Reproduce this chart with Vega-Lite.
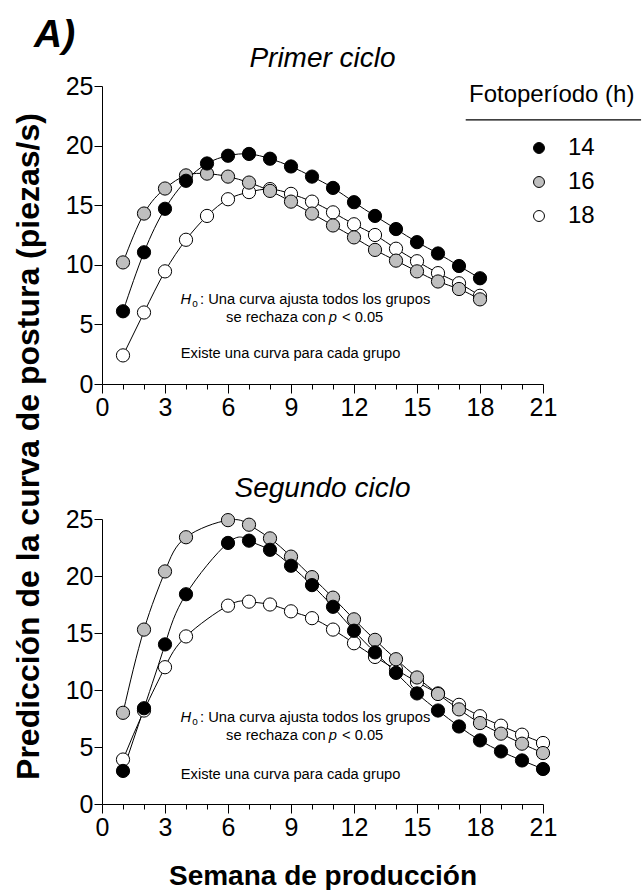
{
  "$schema": "https://vega.github.io/schema/vega-lite/v6.json",
  "autosize": {"type": "pad"},
  "padding": {"left": 11, "top": 16, "right": 0, "bottom": 0},
  "background": "white",
  "bounds": "flush",
  "spacing": 135,
  "title": {"text": "A)", "anchor": "start", "frame": "group", "dx": -68, "offset": -10, "fontSize": 39, "fontStyle": "italic", "fontWeight": "bold", "font": "Liberation Sans", "color": "black"},
  "config": {
    "view": {"stroke": null},
    "axis": {"grid": false, "domainColor": "black", "tickColor": "black", "labelColor": "black", "labelFont": "Liberation Sans", "labelFontSize": 25, "domainWidth": 1, "tickWidth": 1, "titleColor": "black", "titleFont": "Liberation Sans", "titleFontWeight": "bold", "labelOverlap": false, "labelFlush": false},
    "text": {"font": "Liberation Sans", "fontSize": 14.7, "color": "black", "baseline": "alphabetic"}
  },
  "datasets": {
    "d": [
      {"ciclo": "Primer", "foto": 18, "semana": 1, "valor": 2.4},
      {"ciclo": "Primer", "foto": 18, "semana": 2, "valor": 6.0},
      {"ciclo": "Primer", "foto": 18, "semana": 3, "valor": 9.45},
      {"ciclo": "Primer", "foto": 18, "semana": 4, "valor": 12.1},
      {"ciclo": "Primer", "foto": 18, "semana": 5, "valor": 14.1},
      {"ciclo": "Primer", "foto": 18, "semana": 6, "valor": 15.5},
      {"ciclo": "Primer", "foto": 18, "semana": 7, "valor": 16.1},
      {"ciclo": "Primer", "foto": 18, "semana": 8, "valor": 16.35},
      {"ciclo": "Primer", "foto": 18, "semana": 9, "valor": 15.95},
      {"ciclo": "Primer", "foto": 18, "semana": 10, "valor": 15.3},
      {"ciclo": "Primer", "foto": 18, "semana": 11, "valor": 14.4},
      {"ciclo": "Primer", "foto": 18, "semana": 12, "valor": 13.4},
      {"ciclo": "Primer", "foto": 18, "semana": 13, "valor": 12.5},
      {"ciclo": "Primer", "foto": 18, "semana": 14, "valor": 11.35},
      {"ciclo": "Primer", "foto": 18, "semana": 15, "valor": 10.3},
      {"ciclo": "Primer", "foto": 18, "semana": 16, "valor": 9.3},
      {"ciclo": "Primer", "foto": 18, "semana": 17, "valor": 8.45},
      {"ciclo": "Primer", "foto": 18, "semana": 18, "valor": 7.4},
      {"ciclo": "Primer", "foto": 16, "semana": 1, "valor": 10.2},
      {"ciclo": "Primer", "foto": 16, "semana": 2, "valor": 14.3},
      {"ciclo": "Primer", "foto": 16, "semana": 3, "valor": 16.4},
      {"ciclo": "Primer", "foto": 16, "semana": 4, "valor": 17.5},
      {"ciclo": "Primer", "foto": 16, "semana": 5, "valor": 17.65},
      {"ciclo": "Primer", "foto": 16, "semana": 6, "valor": 17.4},
      {"ciclo": "Primer", "foto": 16, "semana": 7, "valor": 16.9},
      {"ciclo": "Primer", "foto": 16, "semana": 8, "valor": 16.2},
      {"ciclo": "Primer", "foto": 16, "semana": 9, "valor": 15.3},
      {"ciclo": "Primer", "foto": 16, "semana": 10, "valor": 14.3},
      {"ciclo": "Primer", "foto": 16, "semana": 11, "valor": 13.3},
      {"ciclo": "Primer", "foto": 16, "semana": 12, "valor": 12.3},
      {"ciclo": "Primer", "foto": 16, "semana": 13, "valor": 11.25},
      {"ciclo": "Primer", "foto": 16, "semana": 14, "valor": 10.35},
      {"ciclo": "Primer", "foto": 16, "semana": 15, "valor": 9.45},
      {"ciclo": "Primer", "foto": 16, "semana": 16, "valor": 8.6},
      {"ciclo": "Primer", "foto": 16, "semana": 17, "valor": 7.97},
      {"ciclo": "Primer", "foto": 16, "semana": 18, "valor": 7.1},
      {"ciclo": "Primer", "foto": 14, "semana": 1, "valor": 6.1},
      {"ciclo": "Primer", "foto": 14, "semana": 2, "valor": 11.05},
      {"ciclo": "Primer", "foto": 14, "semana": 3, "valor": 14.7},
      {"ciclo": "Primer", "foto": 14, "semana": 4, "valor": 17.05},
      {"ciclo": "Primer", "foto": 14, "semana": 5, "valor": 18.5},
      {"ciclo": "Primer", "foto": 14, "semana": 6, "valor": 19.15},
      {"ciclo": "Primer", "foto": 14, "semana": 7, "valor": 19.3},
      {"ciclo": "Primer", "foto": 14, "semana": 8, "valor": 18.9},
      {"ciclo": "Primer", "foto": 14, "semana": 9, "valor": 18.25},
      {"ciclo": "Primer", "foto": 14, "semana": 10, "valor": 17.4},
      {"ciclo": "Primer", "foto": 14, "semana": 11, "valor": 16.45},
      {"ciclo": "Primer", "foto": 14, "semana": 12, "valor": 15.25},
      {"ciclo": "Primer", "foto": 14, "semana": 13, "valor": 14.1},
      {"ciclo": "Primer", "foto": 14, "semana": 14, "valor": 13.0},
      {"ciclo": "Primer", "foto": 14, "semana": 15, "valor": 11.9},
      {"ciclo": "Primer", "foto": 14, "semana": 16, "valor": 10.95},
      {"ciclo": "Primer", "foto": 14, "semana": 17, "valor": 9.9},
      {"ciclo": "Primer", "foto": 14, "semana": 18, "valor": 8.87},
      {"ciclo": "Segundo", "foto": 18, "semana": 1, "valor": 3.9},
      {"ciclo": "Segundo", "foto": 18, "semana": 2, "valor": 8.2},
      {"ciclo": "Segundo", "foto": 18, "semana": 3, "valor": 12.0},
      {"ciclo": "Segundo", "foto": 18, "semana": 4, "valor": 14.7},
      {"ciclo": "Segundo", "foto": 18, "semana": 6, "valor": 17.4},
      {"ciclo": "Segundo", "foto": 18, "semana": 7, "valor": 17.75},
      {"ciclo": "Segundo", "foto": 18, "semana": 8, "valor": 17.5},
      {"ciclo": "Segundo", "foto": 18, "semana": 9, "valor": 16.9},
      {"ciclo": "Segundo", "foto": 18, "semana": 10, "valor": 16.3},
      {"ciclo": "Segundo", "foto": 18, "semana": 11, "valor": 15.3},
      {"ciclo": "Segundo", "foto": 18, "semana": 12, "valor": 14.1},
      {"ciclo": "Segundo", "foto": 18, "semana": 13, "valor": 12.9},
      {"ciclo": "Segundo", "foto": 18, "semana": 14, "valor": 11.8},
      {"ciclo": "Segundo", "foto": 18, "semana": 15, "valor": 10.7},
      {"ciclo": "Segundo", "foto": 18, "semana": 16, "valor": 9.7},
      {"ciclo": "Segundo", "foto": 18, "semana": 17, "valor": 8.7},
      {"ciclo": "Segundo", "foto": 18, "semana": 18, "valor": 7.7},
      {"ciclo": "Segundo", "foto": 18, "semana": 19, "valor": 6.87},
      {"ciclo": "Segundo", "foto": 18, "semana": 20, "valor": 6.08},
      {"ciclo": "Segundo", "foto": 18, "semana": 21, "valor": 5.35},
      {"ciclo": "Segundo", "foto": 16, "semana": 1, "valor": 8.0},
      {"ciclo": "Segundo", "foto": 16, "semana": 2, "valor": 15.3},
      {"ciclo": "Segundo", "foto": 16, "semana": 3, "valor": 20.4},
      {"ciclo": "Segundo", "foto": 16, "semana": 4, "valor": 23.4},
      {"ciclo": "Segundo", "foto": 16, "semana": 6, "valor": 24.9},
      {"ciclo": "Segundo", "foto": 16, "semana": 7, "valor": 24.5},
      {"ciclo": "Segundo", "foto": 16, "semana": 8, "valor": 23.3},
      {"ciclo": "Segundo", "foto": 16, "semana": 9, "valor": 21.7},
      {"ciclo": "Segundo", "foto": 16, "semana": 10, "valor": 19.9},
      {"ciclo": "Segundo", "foto": 16, "semana": 11, "valor": 18.1},
      {"ciclo": "Segundo", "foto": 16, "semana": 12, "valor": 16.2},
      {"ciclo": "Segundo", "foto": 16, "semana": 13, "valor": 14.4},
      {"ciclo": "Segundo", "foto": 16, "semana": 14, "valor": 12.7},
      {"ciclo": "Segundo", "foto": 16, "semana": 15, "valor": 11.1},
      {"ciclo": "Segundo", "foto": 16, "semana": 16, "valor": 9.65},
      {"ciclo": "Segundo", "foto": 16, "semana": 17, "valor": 8.3},
      {"ciclo": "Segundo", "foto": 16, "semana": 18, "valor": 7.1},
      {"ciclo": "Segundo", "foto": 16, "semana": 19, "valor": 6.17},
      {"ciclo": "Segundo", "foto": 16, "semana": 20, "valor": 5.29},
      {"ciclo": "Segundo", "foto": 16, "semana": 21, "valor": 4.47},
      {"ciclo": "Segundo", "foto": 14, "semana": 1, "valor": 2.9},
      {"ciclo": "Segundo", "foto": 14, "semana": 2, "valor": 8.4},
      {"ciclo": "Segundo", "foto": 14, "semana": 3, "valor": 14.0},
      {"ciclo": "Segundo", "foto": 14, "semana": 4, "valor": 18.4},
      {"ciclo": "Segundo", "foto": 14, "semana": 6, "valor": 22.9},
      {"ciclo": "Segundo", "foto": 14, "semana": 7, "valor": 23.1},
      {"ciclo": "Segundo", "foto": 14, "semana": 8, "valor": 22.3},
      {"ciclo": "Segundo", "foto": 14, "semana": 9, "valor": 20.9},
      {"ciclo": "Segundo", "foto": 14, "semana": 10, "valor": 19.2},
      {"ciclo": "Segundo", "foto": 14, "semana": 11, "valor": 17.3},
      {"ciclo": "Segundo", "foto": 14, "semana": 12, "valor": 15.2},
      {"ciclo": "Segundo", "foto": 14, "semana": 13, "valor": 13.3},
      {"ciclo": "Segundo", "foto": 14, "semana": 14, "valor": 11.5},
      {"ciclo": "Segundo", "foto": 14, "semana": 15, "valor": 9.7},
      {"ciclo": "Segundo", "foto": 14, "semana": 16, "valor": 8.2},
      {"ciclo": "Segundo", "foto": 14, "semana": 17, "valor": 6.8},
      {"ciclo": "Segundo", "foto": 14, "semana": 18, "valor": 5.58},
      {"ciclo": "Segundo", "foto": 14, "semana": 19, "valor": 4.61},
      {"ciclo": "Segundo", "foto": 14, "semana": 20, "valor": 3.82},
      {"ciclo": "Segundo", "foto": 14, "semana": 21, "valor": 3.07}
    ]
  },
  "vconcat": [
    {
      "width": 441,
      "height": 298,
      "title": {"text": "Primer ciclo", "anchor": "middle", "frame": "group", "fontSize": 28, "fontStyle": "italic", "fontWeight": "normal", "font": "Liberation Sans", "color": "black", "baseline": "alphabetic", "offset": -21},
      "resolve": {"axis": {"x": "independent"}},
      "layer": [
        {
          "data": {"name": "d"},
          "transform": [{"filter": "datum.ciclo === 'Primer'"}],
          "mark": {"type": "line", "interpolate": "natural", "color": "black", "strokeWidth": 1},
          "encoding": {
            "x": {"field": "semana", "type": "quantitative", "scale": {"domain": [0, 21], "nice": false},
              "axis": {"title": null, "orient": "bottom", "values": [0,3,6,9,12,15,18,21], "tickSize": 9, "labelPadding": 2, "labelOverlap": false}},
            "y": {"field": "valor", "type": "quantitative", "scale": {"domain": [0, 25], "nice": false},
              "axis": {"title": "Predicción de la curva de postura (piezas/s)", "titleFontSize": 32, "titleX": -64, "titleY": 360, "titleBaseline": "alphabetic", "titleAlign": "center", "titleAngle": 270, "labelOverlap": false,
                "values": [0,2.5,5,7.5,10,12.5,15,17.5,20,22.5,25], "labelExpr": "datum.value % 5 === 0 ? datum.label : ''", "tickSize": {"condition": {"test": "datum.value % 5 === 0", "value": 8}, "value": 5}, "labelPadding": 1}},
            "detail": {"field": "foto", "type": "nominal"}
          }
        },
        {
          "data": {"name": "d"},
          "transform": [{"filter": "datum.ciclo === 'Primer'"}],
          "mark": {"type": "circle", "size": 175, "stroke": "black", "strokeWidth": 1, "opacity": 1},
          "encoding": {
            "x": {"field": "semana", "type": "quantitative",
              "axis": {"title": null, "orient": "bottom", "values": [1,2,4,5,7,8,10,11,13,14,16,17,19,20], "tickSize": 5, "labels": false, "domain": false}},
            "y": {"field": "valor", "type": "quantitative"},
            "fill": {"field": "foto", "type": "nominal", "scale": {"domain": [14, 16, 18], "range": ["black", "#bfbfbf", "white"]},
              "legend": {"orient": "none", "legendX": 367, "legendY": -3, "title": "Fotoperíodo (h)", "titleFont": "Liberation Sans", "titleFontSize": 24, "titleFontWeight": "normal", "titleColor": "black", "titleLimit": 400, "titlePadding": 29, "labelFont": "Liberation Sans", "labelFontSize": 24, "labelColor": "black", "symbolType": "circle", "symbolSize": 120, "symbolStrokeColor": "black", "symbolStrokeWidth": 1, "symbolOffset": 58, "labelOffset": 17, "rowPadding": 10, "padding": 0}}
          }
        },
        {
          "data": {"values": [{}]},
          "mark": {"type": "text", "text": "H", "fontStyle": "italic", "align": "right"},
          "encoding": {"x": {"datum": 4.24, "axis": null}, "y": {"datum": 6.71}}
        },
        {
          "data": {"values": [{}]},
          "mark": {"type": "text", "text": "o", "fontSize": 10, "align": "left"},
          "encoding": {"x": {"datum": 4.3, "axis": null}, "y": {"datum": 6.46}}
        },
        {
          "data": {"values": [{}]},
          "mark": {"type": "text", "text": ": Una curva ajusta todos los grupos", "align": "left"},
          "encoding": {"x": {"datum": 4.67, "axis": null}, "y": {"datum": 6.71}}
        },
        {
          "data": {"values": [{}]},
          "mark": {"type": "text", "text": "se rechaza con", "align": "right"},
          "encoding": {"x": {"datum": 10.65, "axis": null}, "y": {"datum": 5.23}}
        },
        {
          "data": {"values": [{}]},
          "mark": {"type": "text", "text": "p", "fontStyle": "italic", "align": "left"},
          "encoding": {"x": {"datum": 10.8, "axis": null}, "y": {"datum": 5.23}}
        },
        {
          "data": {"values": [{}]},
          "mark": {"type": "text", "text": "< 0.05", "align": "left"},
          "encoding": {"x": {"datum": 11.43, "axis": null}, "y": {"datum": 5.23}}
        },
        {
          "data": {"values": [{}]},
          "mark": {"type": "text", "text": "Existe una curva para cada grupo", "align": "left"},
          "encoding": {"x": {"datum": 3.75, "axis": null}, "y": {"datum": 2.16}}
        },
        {
          "data": {"values": [{}]},
          "mark": {"type": "rule", "color": "black", "strokeWidth": 1.2},
          "encoding": {"x": {"datum": 17.32, "axis": null}, "x2": {"datum": 25.67}, "y": {"datum": 22.15}}
        }
      ]
    },
    {
      "width": 441,
      "height": 285,
      "title": {"text": "Segundo ciclo", "anchor": "middle", "frame": "group", "fontSize": 28, "fontStyle": "italic", "fontWeight": "normal", "font": "Liberation Sans", "color": "black", "baseline": "alphabetic", "offset": -18},
      "resolve": {"axis": {"x": "independent"}},
      "layer": [
        {
          "data": {"name": "d"},
          "transform": [{"filter": "datum.ciclo === 'Segundo'"}],
          "mark": {"type": "line", "interpolate": "natural", "color": "black", "strokeWidth": 1},
          "encoding": {
            "x": {"field": "semana", "type": "quantitative", "scale": {"domain": [0, 21], "nice": false},
              "axis": {"title": "Semana de producción", "titleFontSize": 28, "titleY": 80, "titleBaseline": "alphabetic", "orient": "bottom", "values": [0,3,6,9,12,15,18,21], "tickSize": 9, "labelPadding": 2, "labelOverlap": false}},
            "y": {"field": "valor", "type": "quantitative", "scale": {"domain": [0, 25], "nice": false},
              "axis": {"title": null, "labelOverlap": false, "values": [0,2.5,5,7.5,10,12.5,15,17.5,20,22.5,25], "labelExpr": "datum.value % 5 === 0 ? datum.label : ''", "tickSize": {"condition": {"test": "datum.value % 5 === 0", "value": 8}, "value": 5}, "labelPadding": 1}},
            "detail": {"field": "foto", "type": "nominal"}
          }
        },
        {
          "data": {"name": "d"},
          "transform": [{"filter": "datum.ciclo === 'Segundo'"}],
          "mark": {"type": "circle", "size": 175, "stroke": "black", "strokeWidth": 1, "opacity": 1},
          "encoding": {
            "x": {"field": "semana", "type": "quantitative",
              "axis": {"title": null, "orient": "bottom", "values": [1,2,4,5,7,8,10,11,13,14,16,17,19,20], "tickSize": 5, "labels": false, "domain": false}},
            "y": {"field": "valor", "type": "quantitative"},
            "fill": {"field": "foto", "type": "nominal", "scale": {"domain": [14, 16, 18], "range": ["black", "#bfbfbf", "white"]},
              "legend": {"orient": "none", "legendX": 367, "legendY": -3, "title": "Fotoperíodo (h)", "titleFont": "Liberation Sans", "titleFontSize": 24, "titleFontWeight": "normal", "titleColor": "black", "titleLimit": 400, "titlePadding": 29, "labelFont": "Liberation Sans", "labelFontSize": 24, "labelColor": "black", "symbolType": "circle", "symbolSize": 120, "symbolStrokeColor": "black", "symbolStrokeWidth": 1, "symbolOffset": 58, "labelOffset": 17, "rowPadding": 10, "padding": 0}}
          }
        },
        {
          "data": {"values": [{}]},
          "mark": {"type": "text", "text": "H", "fontStyle": "italic", "align": "right"},
          "encoding": {"x": {"datum": 4.24, "axis": null}, "y": {"datum": 7.16}}
        },
        {
          "data": {"values": [{}]},
          "mark": {"type": "text", "text": "o", "fontSize": 10, "align": "left"},
          "encoding": {"x": {"datum": 4.3, "axis": null}, "y": {"datum": 6.89}}
        },
        {
          "data": {"values": [{}]},
          "mark": {"type": "text", "text": ": Una curva ajusta todos los grupos", "align": "left"},
          "encoding": {"x": {"datum": 4.67, "axis": null}, "y": {"datum": 7.16}}
        },
        {
          "data": {"values": [{}]},
          "mark": {"type": "text", "text": "se rechaza con", "align": "right"},
          "encoding": {"x": {"datum": 10.65, "axis": null}, "y": {"datum": 5.58}}
        },
        {
          "data": {"values": [{}]},
          "mark": {"type": "text", "text": "p", "fontStyle": "italic", "align": "left"},
          "encoding": {"x": {"datum": 10.8, "axis": null}, "y": {"datum": 5.58}}
        },
        {
          "data": {"values": [{}]},
          "mark": {"type": "text", "text": "< 0.05", "align": "left"},
          "encoding": {"x": {"datum": 11.43, "axis": null}, "y": {"datum": 5.58}}
        },
        {
          "data": {"values": [{}]},
          "mark": {"type": "text", "text": "Existe una curva para cada grupo", "align": "left"},
          "encoding": {"x": {"datum": 3.75, "axis": null}, "y": {"datum": 2.19}}
        }
      ]
    }
  ]
}
